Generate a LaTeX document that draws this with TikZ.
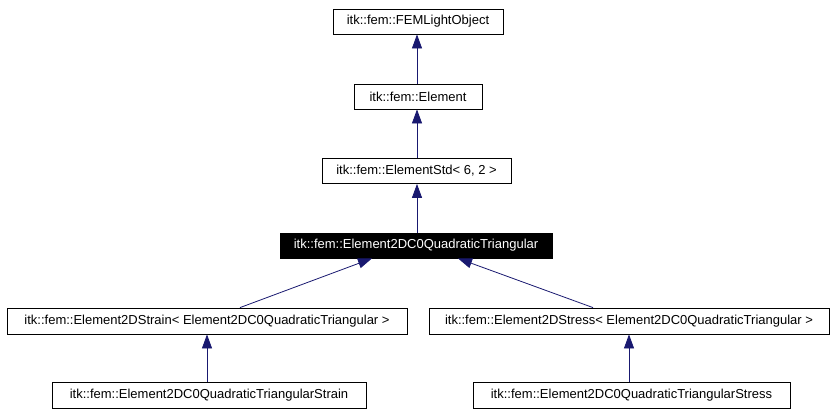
\documentclass[tikz,border=0pt]{standalone}
\usepackage{fontspec}
\setmainfont{Liberation Sans}
\usetikzlibrary{arrows.meta}
\definecolor{edgeblue}{HTML}{191970}
\begin{document}
\begin{tikzpicture}[x=1pt,y=-1pt,
  cls/.style={draw=black,line width=0.8pt,fill=white,minimum height=25pt,inner sep=0pt,
    font=\fontsize{13}{15}\selectfont,text=black},
  cur/.style={cls,fill=black,draw=black,text=white},
  edge/.style={draw=edgeblue,line width=0.8pt,-{Triangle[length=14pt,width=10pt]}}]
\useasboundingbox (0,0) rectangle (836,415);
\node[cls,minimum width=170pt] (A) at (418,21.5) {itk::fem::FEMLightObject};
\node[cls,minimum width=128pt] (B) at (418,96.5) {itk::fem::Element};
\node[cls,minimum width=189pt] (C) at (416.5,171) {itk::fem::ElementStd< 6, 2 >};
\node[cur,minimum width=272pt] (D) at (416,245.5) {itk::fem::Element2DC0QuadraticTriangular};
\node[cls,minimum width=400pt,minimum height=26pt] (E) at (207,321) {itk::fem::Element2DStrain< Element2DC0QuadraticTriangular >};
\node[cls,minimum width=400pt,minimum height=26pt] (F) at (629,321) {itk::fem::Element2DStress< Element2DC0QuadraticTriangular >};
\node[cls,minimum width=314pt,minimum height=26pt] (G) at (209,395) {itk::fem::Element2DC0QuadraticTriangularStrain};
\node[cls,minimum width=317pt,minimum height=26pt] (H) at (631.5,395) {itk::fem::Element2DC0QuadraticTriangularStress};
\draw[edge] (B.north -| 417,0) -- (A.south -| 417,0);
\draw[edge] (C.north -| 417,0) -- (B.south -| 417,0);
\draw[edge] (D.north -| 417,0) -- (C.south -| 417,0);
\draw[edge] ([xshift=33pt]E.north) -- ([xshift=-44pt]D.south);
\draw[edge] ([xshift=-36pt]F.north) -- ([xshift=42pt]D.south);
\draw[edge] (G.north -| 207,0) -- (E.south -| 207,0);
\draw[edge] (H.north -| 629,0) -- (F.south -| 629,0);
\end{tikzpicture}
\end{document}
